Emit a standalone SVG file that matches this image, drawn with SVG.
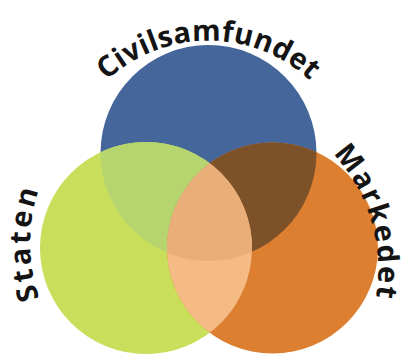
<svg xmlns="http://www.w3.org/2000/svg" width="412" height="359" viewBox="0 0 412 359">
  <style>
    .lbl { font-family: "Open Sans", "Noto Sans", "DejaVu Sans", sans-serif; font-weight: bold; font-size: 29px; fill: #141414; }
  </style>
  <defs>
    <clipPath id="clipBlue"><circle cx="208.5" cy="153" r="108"/></clipPath>
    <clipPath id="clipGreen"><circle cx="146" cy="248" r="106"/></clipPath>
    <path id="arcCivil" d="M95.6,289.5 A150,150 0 1,1 321.4,289.5"/>
    <path id="arcStaten" d="M69.1,350.3 A167,167 0 0,1 69.1,135.7"/>
    <path id="arcMarked" d="M289.3,120 A170,170 0 0,1 357.3,351"/>
  </defs>
  <rect width="412" height="359" fill="#ffffff"/>
  <g id="civilsamfundet">
    <circle cx="208.5" cy="153" r="108" fill="#45669a"/>
    <text class="lbl" letter-spacing="0.3"><textPath href="#arcCivil" startOffset="50%" text-anchor="middle">Civilsamfundet</textPath></text>
  </g>
  <g id="staten">
    <circle cx="146" cy="248" r="106" fill="#c9de5b"/>
    <text class="lbl" letter-spacing="3"><textPath href="#arcStaten" startOffset="50%" text-anchor="middle">Staten</textPath></text>
  </g>
  <g id="markedet">
    <circle cx="272.5" cy="248" r="105.5" fill="#dc7f31"/>
    <text class="lbl" letter-spacing="2"><textPath href="#arcMarked" startOffset="50%" text-anchor="middle">Markedet</textPath></text>
  </g>
  <g id="overlaps">
    <circle cx="146" cy="248" r="106" fill="#b6d56f" clip-path="url(#clipBlue)"/>
    <circle cx="272.5" cy="248" r="105.5" fill="#7e5229" clip-path="url(#clipBlue)"/>
    <circle cx="272.5" cy="248" r="105.5" fill="#f5bb85" clip-path="url(#clipGreen)"/>
    <g clip-path="url(#clipBlue)">
      <circle cx="272.5" cy="248" r="105.5" fill="#eaae79" clip-path="url(#clipGreen)"/>
    </g>
  </g>
</svg>
